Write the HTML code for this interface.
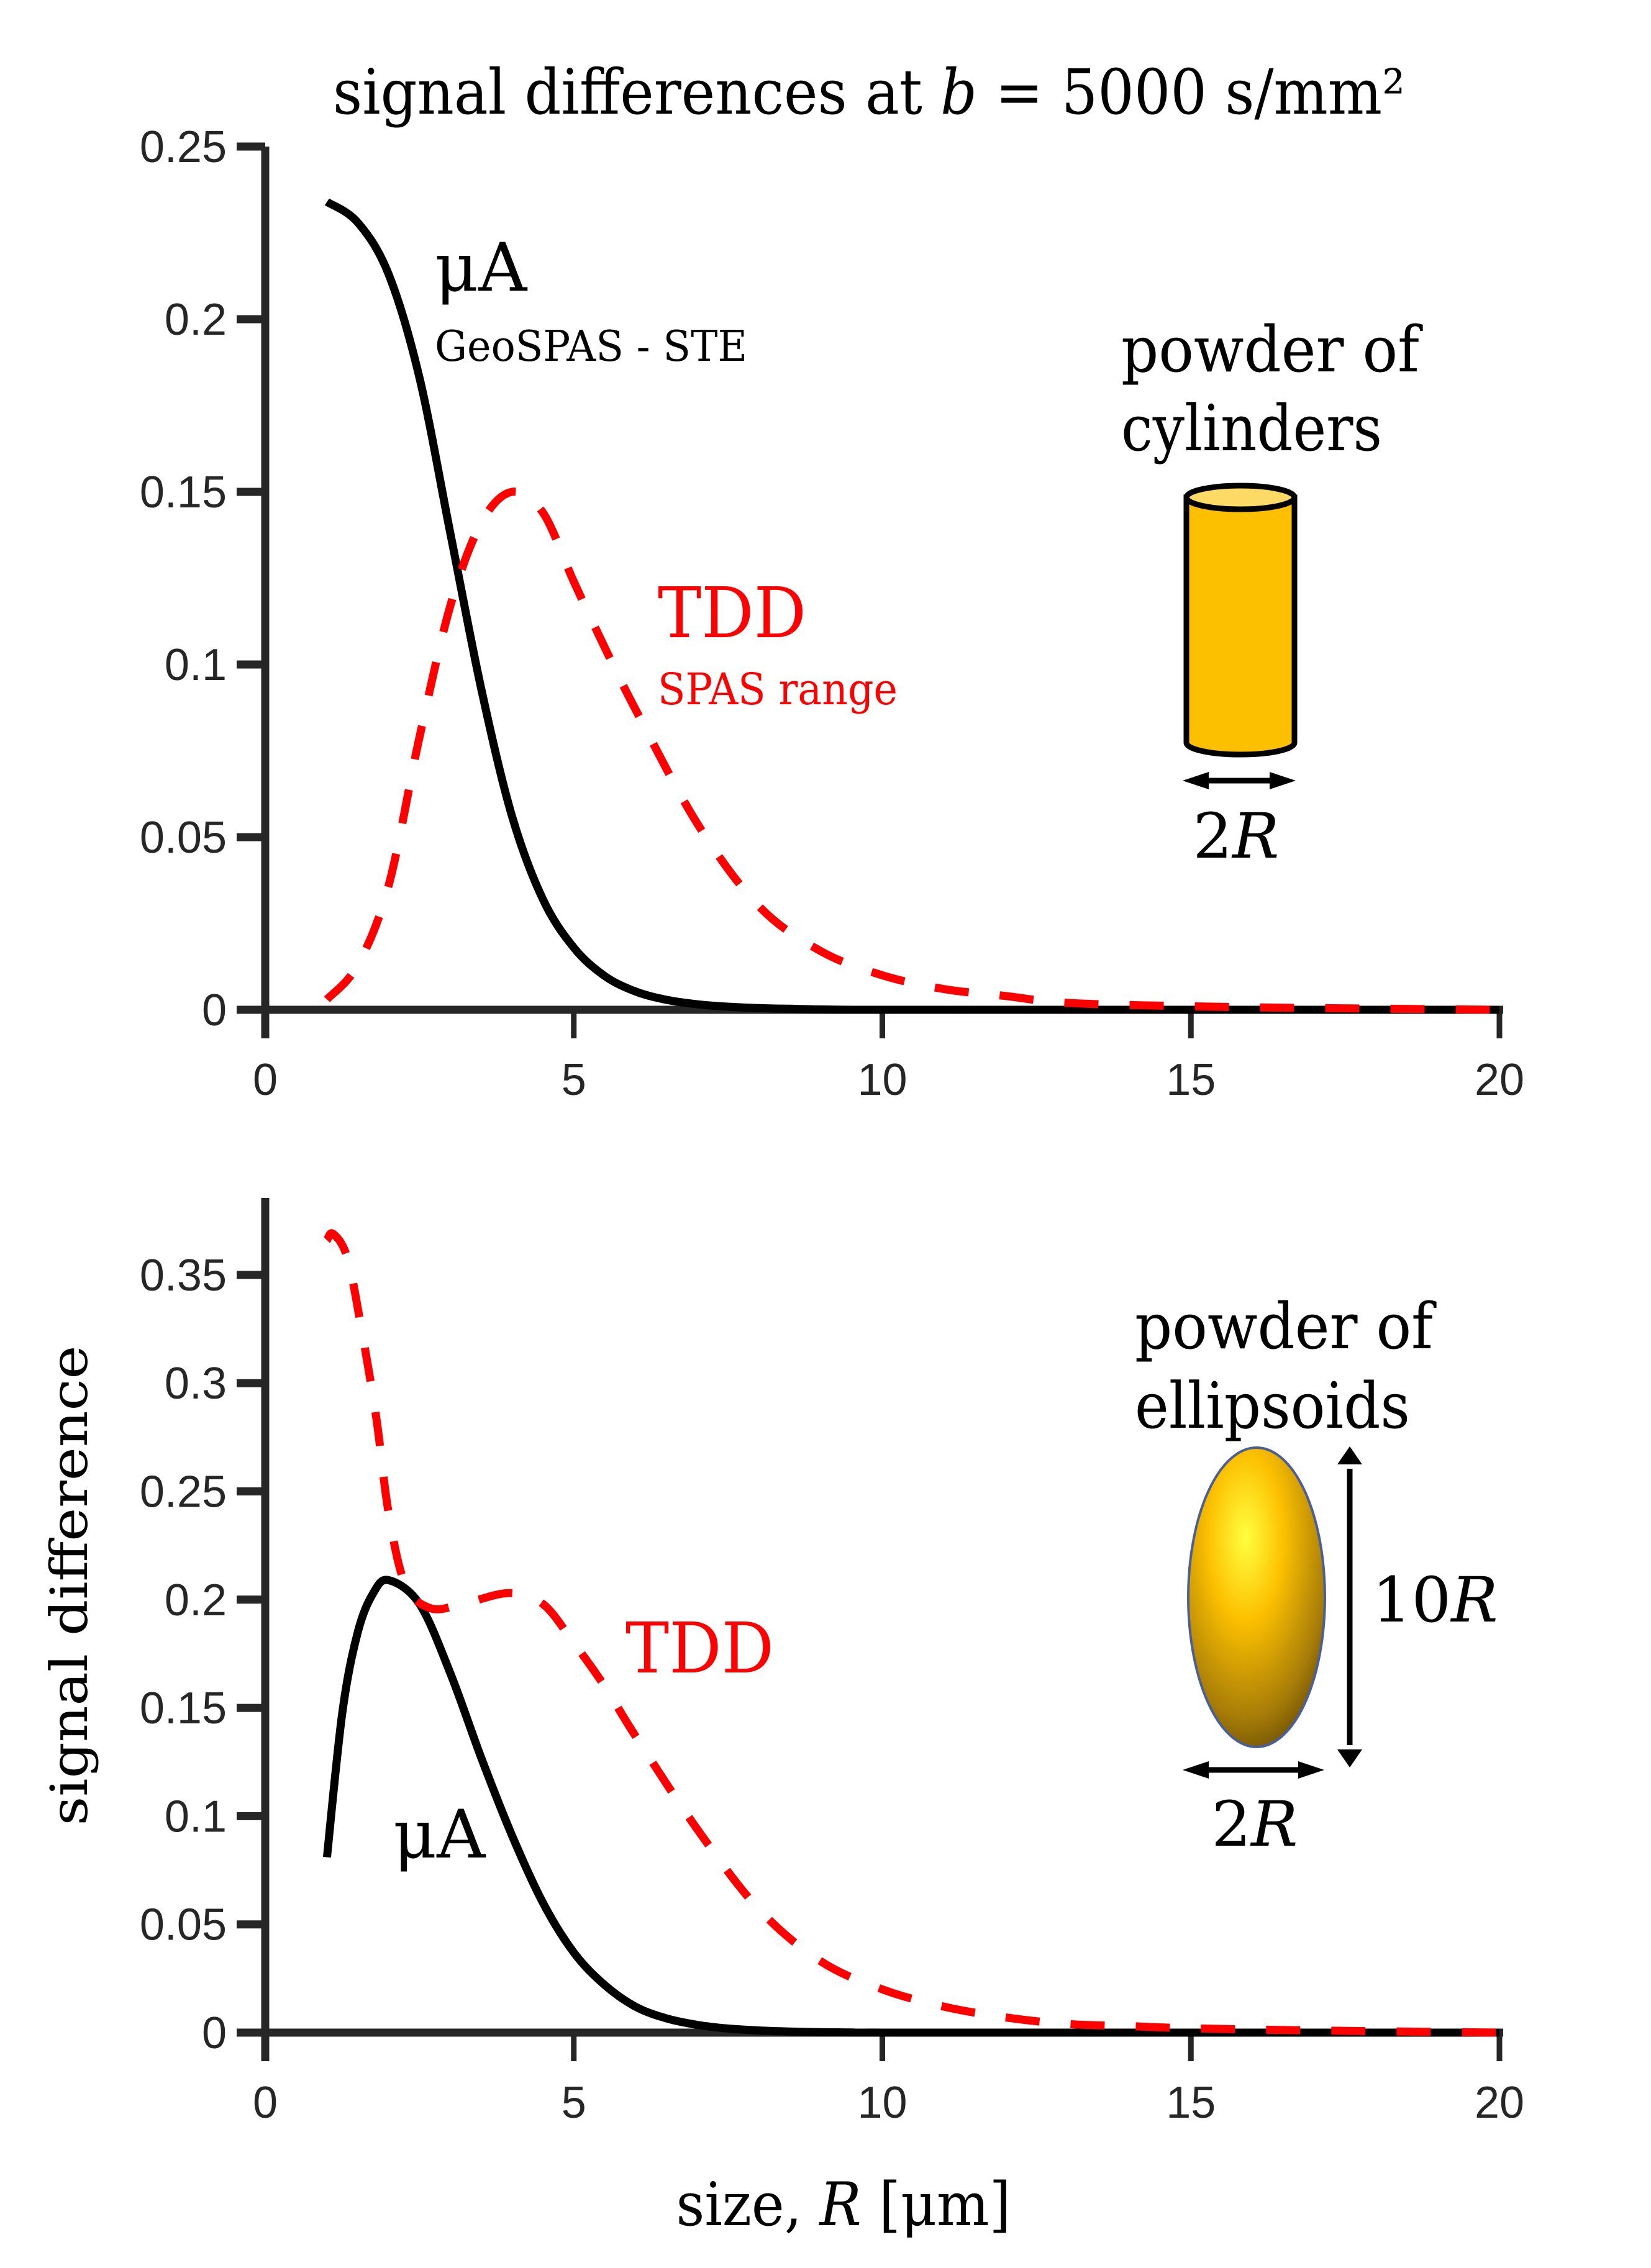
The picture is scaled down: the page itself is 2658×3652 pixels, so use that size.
<!DOCTYPE html>
<html><head><meta charset="utf-8"><style>
html,body{margin:0;padding:0;background:#fff}
svg{display:block}
.tick{font-family:"Liberation Sans",sans-serif;font-size:72px;fill:#262626}
.serif{font-family:"DejaVu Serif","Liberation Serif",serif}
</style></head><body>
<svg id="chart" xmlns="http://www.w3.org/2000/svg" width="2658" height="3652" viewBox="0 0 2658 3652">
<defs>
<radialGradient id="gold" cx="0.42" cy="0.3" r="0.8">
<stop offset="0" stop-color="#ffff40"/>
<stop offset="0.35" stop-color="#fcc000"/>
<stop offset="0.75" stop-color="#a87d08"/>
<stop offset="1" stop-color="#5a4200"/>
</radialGradient>
</defs>
<text class="serif" x="1399" y="183" font-size="100" text-anchor="middle" textLength="1726" lengthAdjust="spacingAndGlyphs">signal differences at <tspan font-style="italic">b</tspan> = 5000 s/mm²</text>
<g id="top"></g>
<g id="bot"></g>

<text class="serif" x="700" y="468" font-size="108">μA</text>
<text class="serif" x="700" y="581" font-size="68" textLength="503" lengthAdjust="spacingAndGlyphs">GeoSPAS - STE</text>
<text class="serif" x="1059" y="1026" font-size="112" fill="#ff0000" textLength="239" lengthAdjust="spacingAndGlyphs">TDD</text>
<text class="serif" x="1059" y="1134" font-size="70" fill="#ff0000" textLength="386" lengthAdjust="spacingAndGlyphs">SPAS range</text>

<g>
<text class="serif" x="1805" y="598" font-size="102" textLength="480" lengthAdjust="spacingAndGlyphs">powder of</text>
<text class="serif" x="1805" y="725" font-size="102" textLength="420" lengthAdjust="spacingAndGlyphs">cylinders</text>
<path d="M1910 801 L1910 1196 A87 19 0 0 0 2084 1196 L2084 801 Z" fill="#fdc000" stroke="#000" stroke-width="9"/>
<ellipse cx="1997" cy="801" rx="87" ry="19" fill="#fdda66" stroke="#000" stroke-width="9"/>
<line x1="1940" y1="1257" x2="2050" y2="1257" stroke="#000" stroke-width="9"/>
<polygon points="1904,1257 1946,1243 1946,1271" fill="#000"/>
<polygon points="2086,1257 2044,1243 2044,1271" fill="#000"/>
<text class="serif" x="1990" y="1381" font-size="100" text-anchor="middle">2<tspan font-style="italic">R</tspan></text>
</g>

<text class="serif" x="633" y="2991" font-size="108">μA</text>
<text class="serif" x="1007" y="2693" font-size="112" fill="#ff0000" textLength="239" lengthAdjust="spacingAndGlyphs">TDD</text>

<g>
<text class="serif" x="1827" y="2171" font-size="102" textLength="480" lengthAdjust="spacingAndGlyphs">powder of</text>
<text class="serif" x="1827" y="2299" font-size="102" textLength="443" lengthAdjust="spacingAndGlyphs">ellipsoids</text>
<ellipse cx="2023" cy="2572" rx="110" ry="241" fill="url(#gold)" stroke="#4a5f9a" stroke-width="4"/>
<line x1="2173" y1="2365" x2="2173" y2="2810" stroke="#000" stroke-width="9"/>
<polygon points="2173,2329 2153,2358 2193,2358" fill="#000"/>
<polygon points="2173,2846 2153,2817 2193,2817" fill="#000"/>
<line x1="1940" y1="2850" x2="2096" y2="2850" stroke="#000" stroke-width="9"/>
<polygon points="1904,2850 1946,2836 1946,2864" fill="#000"/>
<polygon points="2132,2850 2090,2836 2090,2864" fill="#000"/>
<text class="serif" x="2209" y="2611" font-size="100">10<tspan font-style="italic">R</tspan></text>
<text class="serif" x="2020" y="2972" font-size="100" text-anchor="middle">2<tspan font-style="italic">R</tspan></text>
</g>

<text class="serif" transform="translate(140,2553) rotate(-90)" font-size="82" text-anchor="middle" textLength="773" lengthAdjust="spacingAndGlyphs">signal difference</text>
<text class="serif" x="1358" y="3583" font-size="96" text-anchor="middle" textLength="539" lengthAdjust="spacingAndGlyphs">size, <tspan font-style="italic">R</tspan> [μm]</text>
</svg>
<script>
const xTicks = [0, 5, 10, 15, 20];
const topYTicks = [0, 0.05, 0.1, 0.15, 0.2, 0.25];
const topYLabels = ["0", "0.05", "0.1", "0.15", "0.2", "0.25"];
const botYTicks = [0, 0.05, 0.1, 0.15, 0.2, 0.25, 0.3, 0.35];
const botYLabels = ["0", "0.05", "0.1", "0.15", "0.2", "0.25", "0.3", "0.35"];

const topR = [1, 1.5, 2, 2.5, 3, 3.5, 4, 4.5, 5, 5.5, 6, 6.5, 7, 7.5, 8, 8.5, 9, 9.5, 10, 15, 20];
const topUA = [0.234, 0.228, 0.213, 0.183, 0.138, 0.093, 0.056, 0.032, 0.018, 0.0098, 0.0053, 0.0029, 0.0016, 0.0009, 0.0005, 0.0003, 0.0001, 0, 0, 0, 0];
const topTR = [1, 1.5, 2, 2.5, 3, 3.5, 4, 4.5, 5, 5.5, 6, 7, 8, 9, 10, 11, 12, 13, 15, 17, 20];
const topTDD = [0.003, 0.013, 0.036, 0.079, 0.117, 0.141, 0.150, 0.144, 0.124, 0.105, 0.087, 0.054, 0.030, 0.017, 0.010, 0.006, 0.004, 0.002, 0.001, 0.0005, 0];

const botR = [1, 1.25, 1.5, 1.75, 2, 2.5, 3, 3.5, 4, 4.5, 5, 5.5, 6, 6.5, 7, 7.5, 8, 8.5, 9, 9.5, 10, 15, 20];
const botUA = [0.081, 0.148, 0.185, 0.203, 0.209, 0.198, 0.166, 0.127, 0.091, 0.060, 0.037, 0.022, 0.012, 0.0066, 0.0036, 0.0019, 0.001, 0.0005, 0.0002, 0.0001, 0, 0, 0];
const botTR = [1, 1.1, 1.33, 1.56, 1.8, 2, 2.27, 2.68, 3.2, 3.95, 4.5, 5, 5.5, 6, 7, 8, 9, 10, 11, 12, 13, 14, 15, 17, 20];
const botTDD = [0.366, 0.369, 0.358, 0.325, 0.284, 0.240, 0.207, 0.196, 0.198, 0.203, 0.198, 0.180, 0.160, 0.137, 0.094, 0.057, 0.033, 0.020, 0.012, 0.007, 0.004, 0.003, 0.002, 0.001, 0];

const NS = "http://www.w3.org/2000/svg";
function mk(tag, attrs, parent) {
  const e = document.createElementNS(NS, tag);
  for (const k in attrs) e.setAttribute(k, attrs[k]);
  parent.appendChild(e);
  return e;
}
const xScale = v => 427 + v * 99.35;
function smoothPath(xs, ys, sx, sy) {
  const p = xs.map((x, i) => [sx(x), sy(ys[i])]);
  let d = "M" + p[0][0].toFixed(1) + " " + p[0][1].toFixed(1);
  for (let i = 0; i < p.length - 1; i++) {
    const p0 = p[Math.max(0, i - 1)], p1 = p[i], p2 = p[i + 1], p3 = p[Math.min(p.length - 1, i + 2)];
    const c1x = p1[0] + (p2[0] - p0[0]) / 6, c1y = p1[1] + (p2[1] - p0[1]) / 6;
    const c2x = p2[0] - (p3[0] - p1[0]) / 6, c2y = p2[1] - (p3[1] - p1[1]) / 6;
    d += " C" + c1x.toFixed(1) + " " + c1y.toFixed(1) + " " + c2x.toFixed(1) + " " + c2y.toFixed(1) + " " + p2[0].toFixed(1) + " " + p2[1].toFixed(1);
  }
  return d;
}
function panel(g, y0, perUnit, yTop, yTicks, yLabels, uaR, ua, tR, tdd, labY, prefix) {
  const ys = v => y0 - v * perUnit;
  const ax = mk("line", {x1: 427, y1: yTop, x2: 427, y2: y0 + 46, stroke: "#262626", "stroke-width": 13}, g);
  
  
  const xa = mk("line", {x1: 427, y1: y0, x2: xScale(20) + 6, y2: y0, stroke: "#262626", "stroke-width": 13}, g);
  
  
  yTicks.forEach((v, i) => {
    const t = mk("line", {x1: 381, y1: ys(v), x2: 427, y2: ys(v), stroke: "#262626", "stroke-width": 13}, g);
    
    
    const l = mk("text", {x: 365, y: ys(v) + 25, "text-anchor": "end", class: "tick"}, g);
    l.textContent = yLabels[i];
    
    
  });
  xTicks.forEach(v => {
    const t = mk("line", {x1: xScale(v), y1: y0, x2: xScale(v), y2: y0 + 46, stroke: "#262626", "stroke-width": 9}, g);
    
    
    const l = mk("text", {x: xScale(v), y: labY, "text-anchor": "middle", class: "tick"}, g);
    l.textContent = String(v);
    
    
  });
  const a = mk("path", {d: smoothPath(uaR, ua, xScale, ys), fill: "none", stroke: "#000", "stroke-width": 13}, g);
  
  
  const t = mk("path", {d: smoothPath(tR, tdd, xScale, ys), fill: "none", stroke: "#ff0000", "stroke-width": 13, "stroke-dasharray": "55 50"}, g);
  
  
}
panel(document.getElementById("top"), 1626, 5560, 236, topYTicks, topYLabels, topR, topUA, topTR, topTDD, 1763, "top");
panel(document.getElementById("bot"), 3273, 3486, 1929, botYTicks, botYLabels, botR, botUA, botTR, botTDD, 3410, "bottom");
</script>
</body></html>
